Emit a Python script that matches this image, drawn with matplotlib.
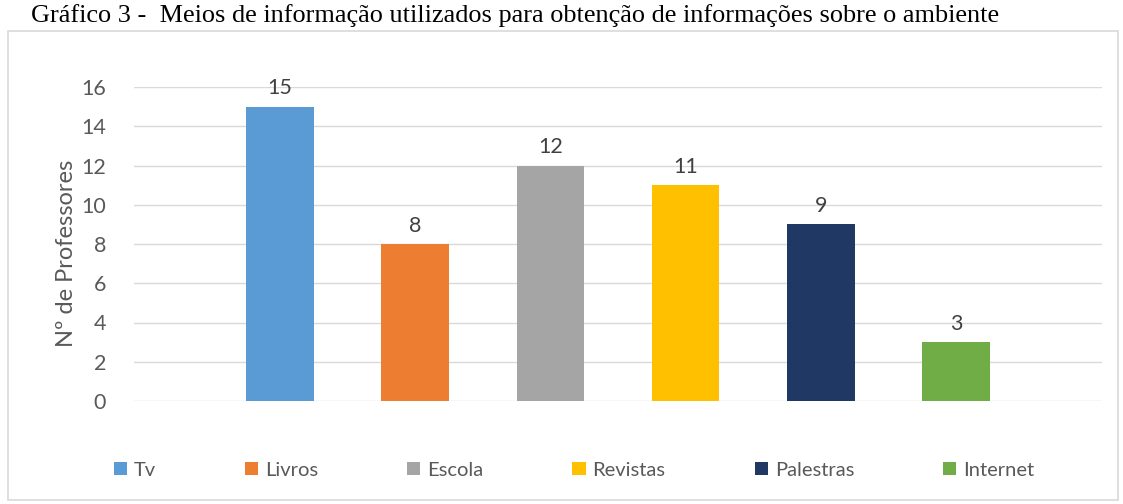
import matplotlib
matplotlib.use("Agg")
import matplotlib.pyplot as plt
from matplotlib.patches import Rectangle

categories = ["Tv", "Livros", "Escola", "Revistas", "Palestras", "Internet"]
values = [15, 8, 12, 11, 9, 3]
colors = ["#5B9BD5", "#ED7D31", "#A5A5A5", "#FFC000", "#203864", "#70AD47"]
yticks = [0, 2, 4, 6, 8, 10, 12, 14, 16]
title = "Gráfico 3 -  Meios de informação utilizados para obtenção de informações sobre o ambiente"
ylabel = "Nº de Professores"

W, H = 1123, 504
fig = plt.figure(figsize=(W / 100, H / 100), dpi=100)
fig.patch.set_facecolor("white")

# outer chart border
fig.add_artist(Rectangle((8 / W, 1 - 500 / H), (1118 - 8) / W, (500 - 31) / H,
                         transform=fig.transFigure, fill=False,
                         edgecolor="#D9D9D9", linewidth=1.2))

fig.text(31 / W, 1 - 16 / H, title, family="Liberation Serif", fontsize=18.9,
         color="black", va="center", ha="left")

left, right = 134, 1102
top, bottom = 87, 401
ax = fig.add_axes([left / W, 1 - bottom / H, (right - left) / W, (bottom - top) / H])
xs = list(range(len(categories)))
bars = ax.bar(xs, values, width=0.5, color=colors, zorder=3)
for b, v in zip(bars, values):
    ax.annotate(str(v), (b.get_x() + b.get_width() / 2, v), xytext=(0, 6),
                textcoords="offset points", ha="center", va="bottom",
                fontsize=15.5, color="#404040", family="Lato")
ax.set_xlim(-1.08, 6.08)
ax.set_ylim(0, 16)
ax.set_yticks(yticks)
ax.set_xticks([])
ax.grid(axis="y", color="#D9D9D9", linewidth=1, zorder=0)
for s in ax.spines.values():
    s.set_visible(False)
ax.tick_params(axis="y", length=0, pad=20, labelsize=15.5, labelcolor="#595959")
for lab in ax.get_yticklabels():
    lab.set_family("Lato")
ax.set_ylabel(ylabel, fontsize=17, color="#595959", family="Lato", labelpad=10)
ax.yaxis.set_label_coords((77 - left) / (right - left), 0.5 + (401 - 253 - (bottom - top) / 2) / (bottom - top))

leg = ax.legend(handles=list(bars), labels=categories, ncol=6, loc="center",
                bbox_to_anchor=((574 - left) / (right - left), -(470 - bottom) / (bottom - top)),
                frameon=False, handlelength=0.65, handleheight=0.65,
                handletextpad=0.35, columnspacing=4.42,
                prop={"family": "Lato", "size": 14.5})
for t in leg.get_texts():
    t.set_color("#595959")

fig.savefig("out.png", dpi=100)
